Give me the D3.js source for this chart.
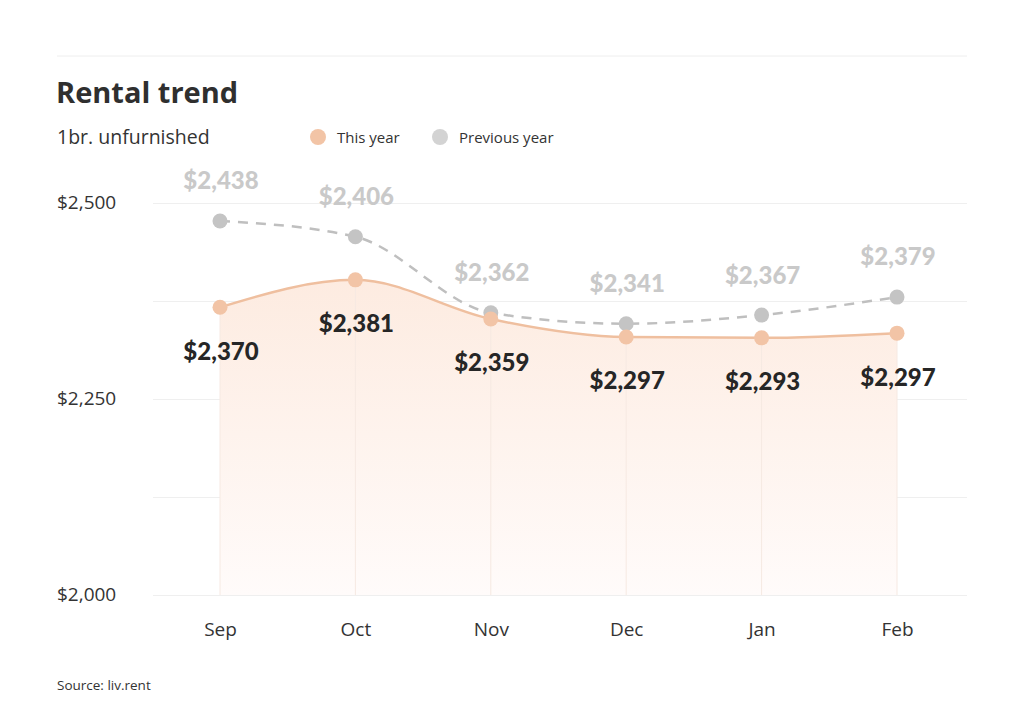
<!DOCTYPE html>
<html>
<head>
<meta charset="utf-8">
<script src="https://cdn.jsdelivr.net/npm/d3@7"></script>
<style>
  html, body { margin: 0; padding: 0; background: #fff; }
  svg { display: block; }
</style>
</head>
<body>
<svg id="chart" width="1024" height="717"></svg>
<script>
// ---- data ----
const months = ["Sep", "Oct", "Nov", "Dec", "Jan", "Feb"];
// plotted positions
const thisYear = [2367, 2402, 2352, 2329, 2328, 2334];
const prevYear = [2477, 2457, 2360, 2346, 2357, 2380];
// printed labels
const thisYearLabels = ["$2,370", "$2,381", "$2,359", "$2,297", "$2,293", "$2,297"];
const prevYearLabels = ["$2,438", "$2,406", "$2,362", "$2,341", "$2,367", "$2,379"];
const gridTicks = [2000, 2125, 2250, 2375, 2500];
const labelTicks = [2000, 2250, 2500];

const svg = d3.select("#chart");
const W = 1024, H = 717;
svg.append("rect").attr("width", W).attr("height", H).attr("fill", "#fff");

const x = d3.scalePoint().domain(months).range([220, 897]);
const y = d3.scaleLinear().domain([2000, 2500]).range([595, 203]);

// top rule
svg.append("line").attr("x1", 57).attr("x2", 967).attr("y1", 56).attr("y2", 56)
  .attr("stroke", "#eeeeee").attr("stroke-width", 1);

// title / subtitle
svg.append("text").attr("x", 56).attr("y", 103)
  .attr("font-family", "'Open Sans', sans-serif").attr("font-weight", 700)
  .attr("font-size", 29).attr("fill", "#2f2f2f").text("Rental trend");
svg.append("text").attr("x", 57).attr("y", 143.5)
  .attr("font-family", "'Open Sans', sans-serif").attr("font-size", 19.5)
  .attr("fill", "#333").text("1br. unfurnished");

// legend
const legend = [
  { label: "This year", color: "#f2c4a6", cx: 318 },
  { label: "Previous year", color: "#d3d3d3", cx: 440 }
];
legend.forEach(l => {
  svg.append("circle").attr("cx", l.cx).attr("cy", 137).attr("r", 8).attr("fill", l.color);
  svg.append("text").attr("x", l.cx + 19).attr("y", 142.5)
    .attr("font-family", "'Open Sans', sans-serif").attr("font-size", 15)
    .attr("fill", "#333").text(l.label);
});

// y grid + labels
const fmt = d3.format("$,");
const yAxis = svg.append("g").attr("transform", "translate(153,0)")
  .call(d3.axisLeft(y).tickValues(gridTicks).tickSize(-(967 - 153))
    .tickFormat(d => labelTicks.includes(d) ? fmt(d) : ""));
yAxis.select(".domain").remove();
yAxis.selectAll(".tick line").attr("stroke", "#efefef").attr("stroke-width", 1);
yAxis.selectAll(".tick text")
  .attr("x", 57 - 153).attr("text-anchor", "start").attr("dy", "0.3em")
  .attr("font-family", "'Open Sans', sans-serif").attr("font-size", 19)
  .attr("fill", "#333");

// gradient for area
const defs = svg.append("defs");
const grad = defs.append("linearGradient").attr("id", "areaGrad")
  .attr("gradientUnits", "userSpaceOnUse")
  .attr("x1", 0).attr("x2", 0).attr("y1", y(2410)).attr("y2", y(2000));
grad.append("stop").attr("offset", "0%").attr("stop-color", "#fdebe0");
grad.append("stop").attr("offset", "100%").attr("stop-color", "#fffbfa");

const area = d3.area()
  .x((d, i) => x(months[i]))
  .y0(y(2000))
  .y1(d => y(d))
  .curve(d3.curveMonotoneX);
svg.append("path").datum(thisYear).attr("d", area).attr("fill", "url(#areaGrad)");

// drop lines
svg.append("g").selectAll("line").data(thisYear).join("line")
  .attr("x1", (d, i) => x(months[i])).attr("x2", (d, i) => x(months[i]))
  .attr("y1", d => y(d)).attr("y2", y(2000))
  .attr("stroke", "#f6e9e2").attr("stroke-width", 1);

// x axis labels
const xAxis = svg.append("g").attr("transform", `translate(0,${y(2000)})`)
  .call(d3.axisBottom(x).tickSize(0).tickPadding(28));
xAxis.select(".domain").remove();
xAxis.selectAll(".tick text")
  .attr("font-family", "'Open Sans', sans-serif").attr("font-size", 19)
  .attr("fill", "#333");

const line = d3.line()
  .x((d, i) => x(months[i]))
  .y(d => y(d))
  .curve(d3.curveMonotoneX);

// previous year line
svg.append("path").datum(prevYear).attr("d", line)
  .attr("fill", "none").attr("stroke", "#bfbfbf").attr("stroke-width", 2.5)
  .attr("stroke-dasharray", "10,8");

// this year line
svg.append("path").datum(thisYear).attr("d", line)
  .attr("fill", "none").attr("stroke", "#efbf9f").attr("stroke-width", 2.5);

// points
svg.append("g").selectAll("circle").data(prevYear).join("circle")
  .attr("cx", (d, i) => x(months[i])).attr("cy", d => y(d)).attr("r", 7.5)
  .attr("fill", "#c4c4c4");
svg.append("g").selectAll("circle").data(thisYear).join("circle")
  .attr("cx", (d, i) => x(months[i])).attr("cy", d => y(d)).attr("r", 7.5)
  .attr("fill", "#f2c4a6");

// value labels
svg.append("g").selectAll("text").data(prevYear).join("text")
  .attr("x", (d, i) => x(months[i]) + 1).attr("y", d => y(d) - 40)
  .attr("dy", "0.35em").attr("text-anchor", "middle")
  .attr("font-family", "Lato, sans-serif").attr("font-weight", 900)
  .attr("font-size", 24).attr("fill", "#c9c9c9")
  .text((d, i) => prevYearLabels[i]);
svg.append("g").selectAll("text").data(thisYear).join("text")
  .attr("x", (d, i) => x(months[i]) + 1).attr("y", d => y(d) + 44)
  .attr("dy", "0.35em").attr("text-anchor", "middle")
  .attr("font-family", "Lato, sans-serif").attr("font-weight", 900)
  .attr("font-size", 24).attr("fill", "#262626")
  .text((d, i) => thisYearLabels[i]);

// source
svg.append("text").attr("x", 57).attr("y", 690)
  .attr("font-family", "'Open Sans', sans-serif").attr("font-size", 13.5)
  .attr("fill", "#333").text("Source: liv.rent");
</script>
</body>
</html>
